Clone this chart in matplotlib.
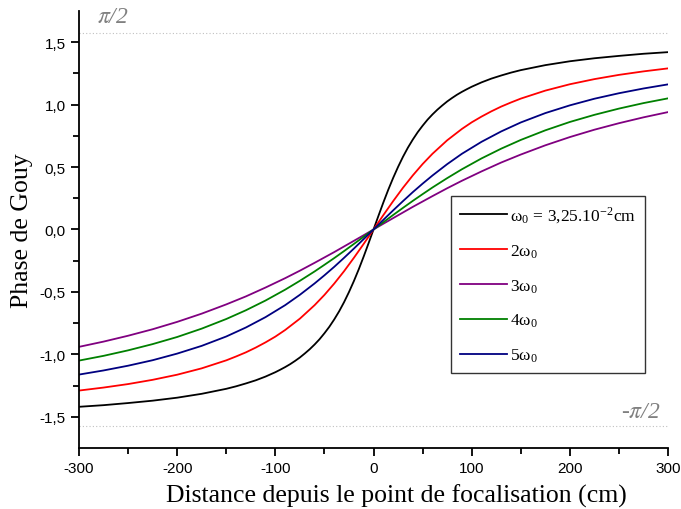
import matplotlib
matplotlib.use("Agg")
import matplotlib.pyplot as plt
import numpy as np

plt.rcParams['mathtext.fontset'] = 'stix'

# distance from focal point (cm), finer sampling for the steep black curve
z_w0 = [-300, -275, -250, -225, -200, -175, -150, -140, -130, -120, -110, -100, -95, -90, -85, -80, -75, -70, -65, -60,
        -55, -50, -45, -40, -35, -30, -25, -20, -15, -10, -5,
        0,
        5, 10, 15, 20, 25, 30, 35, 40, 45, 50, 55,
        60, 65, 70, 75, 80, 85, 90, 95, 100, 110, 120, 130, 140, 150, 175, 200, 225, 250, 275, 300]
phase_w0 = [-1.420, -1.407, -1.390, -1.371, -1.347, -1.316, -1.276, -1.256, -1.233, -1.208, -1.178, -1.143, -1.123, -1.102,
            -1.079, -1.053, -1.025, -0.993, -0.959, -0.921,
            -0.879, -0.831, -0.779, -0.720, -0.655, -0.582, -0.501, -0.413, -0.318, -0.216, -0.109,
            0.0,
            0.109, 0.216, 0.318, 0.413, 0.501, 0.582, 0.655, 0.720, 0.779, 0.831, 0.879,
            0.921, 0.959, 0.993, 1.025, 1.053, 1.079, 1.102, 1.123, 1.143, 1.178, 1.208, 1.233, 1.256, 1.276,
            1.316, 1.347, 1.371, 1.390, 1.407, 1.420]

z_2w0 = [-300, -275, -250, -225, -200, -175, -150, -140, -130, -120, -110, -100, -90, -75, -60, -50, -40, -30, -20, -10,
         0,
         10, 20, 30, 40, 50, 60, 75, 90, 100, 110, 120, 130, 140, 150, 175, 200, 225, 250, 275, 300]
phase_2w0 = [-1.290, -1.266, -1.238, -1.204, -1.163, -1.112, -1.048, -1.017, -0.984, -0.946, -0.904, -0.858, -0.805,
             -0.714, -0.606, -0.524, -0.433, -0.334, -0.227, -0.115,
             0.0,
             0.115, 0.227, 0.334, 0.433, 0.524, 0.606, 0.714, 0.805, 0.858, 0.904, 0.946, 0.984, 1.017, 1.048,
             1.112, 1.163, 1.204, 1.238, 1.266, 1.290]

z = [-300, -275, -250, -225, -200, -175, -150, -130, -110, -90, -75, -60, -50, -40, -30, -20, -10,
     0,
     10, 20, 30, 40, 50, 60, 75, 90, 110, 130, 150, 175, 200, 225, 250, 275, 300]
phase_3w0 = [-0.940, -0.898, -0.851, -0.799, -0.740, -0.674, -0.600, -0.536, -0.465, -0.390, -0.330, -0.267, -0.224, -0.181, -0.136, -0.091, -0.046,
             0.0,
             0.046, 0.091, 0.136, 0.181, 0.224, 0.267, 0.330, 0.390, 0.465, 0.536, 0.600, 0.674, 0.740, 0.799, 0.851, 0.898, 0.940]
phase_4w0 = [-1.050, -1.012, -0.968, -0.918, -0.861, -0.794, -0.717, -0.647, -0.569, -0.482, -0.411, -0.336, -0.283, -0.229, -0.173, -0.116, -0.058,
             0.0,
             0.058, 0.116, 0.173, 0.229, 0.283, 0.336, 0.411, 0.482, 0.569, 0.647, 0.717, 0.794, 0.861, 0.918, 0.968, 1.012, 1.050]
phase_5w0 = [-1.162, -1.129, -1.091, -1.047, -0.994, -0.932, -0.857, -0.785, -0.702, -0.606, -0.523, -0.432, -0.367, -0.299, -0.227, -0.153, -0.077,
             0.0,
             0.077, 0.153, 0.227, 0.299, 0.367, 0.432, 0.523, 0.606, 0.702, 0.785, 0.857, 0.932, 0.994, 1.047, 1.091, 1.129, 1.162]

series = [
    (z_w0, phase_w0, r'ω$_{\mathregular{0}}$ = 3,25.10$^{\mathregular{-2}}$cm', '#000000'),
    (z_2w0, phase_2w0, r'2ω$_{\mathregular{0}}$', '#ff0000'),
    (z, phase_3w0, r'3ω$_{\mathregular{0}}$', '#800080'),
    (z, phase_4w0, r'4ω$_{\mathregular{0}}$', '#008000'),
    (z, phase_5w0, r'5ω$_{\mathregular{0}}$', '#000080'),
]

xticks = [-300, -200, -100, 0, 100, 200, 300]
xticklabels = ['-300', '-200', '-100', '0', '100', '200', '300']
yticks = [-1.5, -1.0, -0.5, 0.0, 0.5, 1.0, 1.5]
yticklabels = ['-1,5', '-1,0', '-0,5', '0,0', '0,5', '1,0', '1,5']
half_pi = np.pi / 2

fig = plt.figure(figsize=(6.81, 5.10), dpi=100)
ax = fig.add_axes([0.116, 0.1196, 0.865, 0.857])

ax.plot([-300, 300], [half_pi, half_pi], linestyle=(0, (1, 2)), color='#c0c0c0', linewidth=0.8)
ax.plot([-300, 300], [-half_pi, -half_pi], linestyle=(0, (1, 2)), color='#c0c0c0', linewidth=0.8)

for zz, vals, lab, col in series:
    ax.plot(zz, vals, color=col, linewidth=1.3, label=lab)

ax.set_xlim(-300, 300)
ax.set_ylim(-1.75, 1.75)
ax.set_xticks(xticks)
ax.set_xticklabels(xticklabels, fontfamily='Liberation Sans', fontsize=11)
ax.set_yticks(yticks)
ax.set_yticklabels(yticklabels, fontfamily='Liberation Sans', fontsize=11)
ax.set_xticks([-250, -150, -50, 50, 150, 250], minor=True)
ax.set_yticks([-1.25, -0.75, -0.25, 0.25, 0.75, 1.25], minor=True)
ax.tick_params(which='major', direction='out', length=6, width=1.3)
ax.tick_params(which='minor', direction='out', length=4, width=1.3)

for s in ['top', 'right']:
    ax.spines[s].set_visible(False)
for s in ['left', 'bottom']:
    ax.spines[s].set_linewidth(1.3)

ax.set_xlabel('Distance depuis le point de focalisation (cm)', fontfamily='Liberation Serif', fontsize=18.5)
ax.xaxis.set_label_coords(0.538, -0.082)
ax.set_ylabel('Phase de Gouy', fontfamily='Liberation Serif', fontsize=18.5)
ax.yaxis.set_label_coords(-0.078, 0.5)

ax.text(-282, 1.665, r'$\pi$/2', color='#808080', fontsize=17, style='italic', fontfamily='Liberation Serif')
ax.text(252, -1.505, r'-$\pi$/2', color='#808080', fontsize=17, style='italic', fontfamily='Liberation Serif')

leg = ax.legend(loc='upper left', bbox_to_anchor=(0.632, 0.577), borderaxespad=0,
                prop={'family': 'Liberation Serif', 'size': 12.5}, frameon=True, fancybox=False,
                handlelength=2.7, labelspacing=1.0, borderpad=0.5, handletextpad=0.2)
leg.get_frame().set_edgecolor('black')
leg.get_frame().set_linewidth(1.0)

fig.savefig('out.png', dpi=100)
